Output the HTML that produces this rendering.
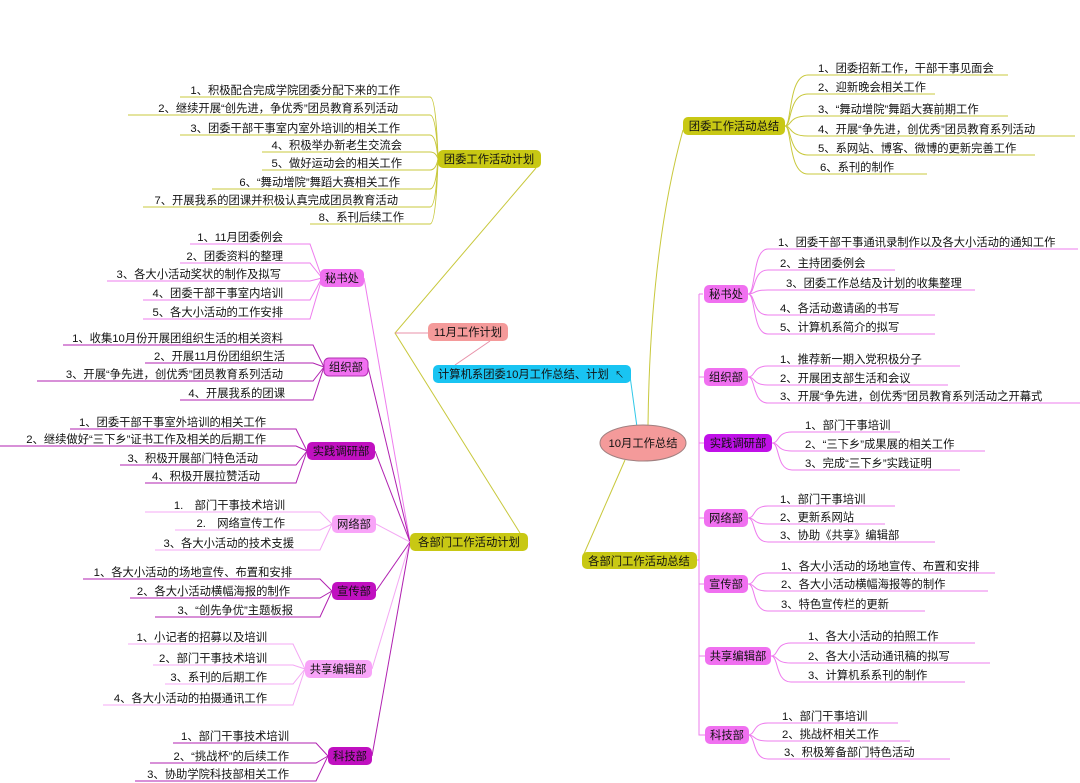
<!DOCTYPE html>
<html><head><meta charset="utf-8"><style>
html,body{margin:0;padding:0;background:#fff;}
svg{display:block;}
text{font-family:"Liberation Sans","Noto Sans CJK SC","WenQuanYi Zen Hei",sans-serif;font-size:11.3px;fill:#111;}
.e{text-anchor:end}
.m{text-anchor:middle}
.o{stroke:#c8c83c;fill:none;stroke-width:1}
.p{stroke:#ee7cee;fill:none;stroke-width:1}
.q{stroke:#b020b0;fill:none;stroke-width:1}
.r{stroke:#f4a8f4;fill:none;stroke-width:1}
</style></head><body>
<svg width="1080" height="783" viewBox="0 0 1080 783" xmlns="http://www.w3.org/2000/svg">
<!-- main trunk lines -->
<path class="o" d="M536,168 L395,333 L520,533"/>
<path d="M395,333 H430" stroke="#e890a8" fill="none"/>
<path d="M490,341 L455,365" stroke="#e890a8" fill="none"/>
<path d="M630,376 L637,427" stroke="#30c8e8" fill="none"/>
<path class="o" d="M648,426 Q650,250 683,130"/>
<path class="o" d="M625,460 L583,556"/>

<!-- Left top: 团委工作活动计划 -->
<g class="o">
<path d="M180,97 H430 Q436,97 438,159"/>
<path d="M128,115 H430 Q436,115 438,159"/>
<path d="M180,135 H430 Q436,135 438,159"/>
<path d="M262,152 H430 Q436,152 438,159"/>
<path d="M262,170 H430 Q436,170 438,159"/>
<path d="M212,189 H430 Q436,189 438,159"/>
<path d="M143,207 H430 Q436,207 438,159"/>
<path d="M310,224 H430 Q436,224 438,159"/>
</g>
<text class="e" x="400" y="94">1、积极配合完成学院团委分配下来的工作</text>
<text class="e" x="398" y="112">2、继续开展“创先进，争优秀”团员教育系列活动</text>
<text class="e" x="400" y="132">3、团委干部干事室内室外培训的相关工作</text>
<text class="e" x="402" y="149">4、积极举办新老生交流会</text>
<text class="e" x="402" y="167">5、做好运动会的相关工作</text>
<text class="e" x="400" y="186">6、“舞动增院”舞蹈大赛相关工作</text>
<text class="e" x="398" y="204">7、开展我系的团课并积极认真完成团员教育活动</text>
<text class="e" x="404" y="221">8、系刊后续工作</text>
<rect x="438" y="150" width="103" height="18" rx="5" fill="#c8c814"/>
<text class="m" x="489" y="163">团委工作活动计划</text>

<rect x="428" y="323" width="80" height="18" rx="5" fill="#f49a9a"/>
<text class="m" x="468" y="336">11月工作计划</text>
<rect x="433" y="365" width="198" height="18" rx="5" fill="#19c4f2"/>
<text x="438" y="378">计算机系团委10月工作总结、计划</text>
<text x="615" y="378" style="font-size:9px">↖</text>
<ellipse cx="643" cy="443" rx="43" ry="18" fill="#f49a9a" stroke="#a08080"/>
<text class="m" x="643" y="447">10月工作总结</text>

<!-- Left departments to 各部门工作活动计划 -->
<path class="p" d="M364,278 L410,542"/>
<path class="q" d="M368,367 L410,542"/>
<path class="q" d="M375,451 L410,542"/>
<path class="r" d="M376,524 L410,542"/>
<path class="q" d="M376,591 L410,542"/>
<path class="r" d="M372,669 L410,542"/>
<path class="q" d="M372,756 L410,542"/>

<!-- 秘书处 left -->
<g class="p">
<path d="M190,244 H310 L322,278"/>
<path d="M180,263 H310 L322,278"/>
<path d="M107,281 H310 L322,278"/>
<path d="M143,300 H310 L322,278"/>
<path d="M143,319 H310 L322,278"/>
</g>
<text class="e" x="283" y="241">1、11月团委例会</text>
<text class="e" x="283" y="260">2、团委资料的整理</text>
<text class="e" x="281" y="278">3、各大小活动奖状的制作及拟写</text>
<text class="e" x="283" y="297">4、团委干部干事室内培训</text>
<text class="e" x="283" y="316">5、各大小活动的工作安排</text>
<rect x="320" y="269" width="44" height="18" rx="5" fill="#f070f0"/>
<text class="m" x="342" y="282">秘书处</text>

<!-- 组织部 left -->
<g class="q">
<path d="M63,345 H313 L324,367"/>
<path d="M145,363 H313 L324,367"/>
<path d="M37,381 H313 L324,367"/>
<path d="M180,400 H313 L324,367"/>
</g>
<text class="e" x="283" y="342">1、收集10月份开展团组织生活的相关资料</text>
<text class="e" x="285" y="360">2、开展11月份团组织生活</text>
<text class="e" x="283" y="378">3、开展“争先进，创优秀”团员教育系列活动</text>
<text class="e" x="285" y="397">4、开展我系的团课</text>
<rect x="324" y="358" width="44" height="18" rx="5" fill="#f070f0" stroke="#b030b0"/>
<text class="m" x="346" y="371">组织部</text>

<!-- 实践调研部 left -->
<g class="q">
<path d="M70,429 H296 L307,451"/>
<path d="M0,446 H296 L307,451"/>
<path d="M120,465 H296 L307,451"/>
<path d="M145,483 H296 L307,451"/>
</g>
<text class="e" x="266" y="426">1、团委干部干事室外培训的相关工作</text>
<text class="e" x="266" y="443">2、继续做好“三下乡”证书工作及相关的后期工作</text>
<text class="e" x="258" y="462">3、积极开展部门特色活动</text>
<text class="e" x="260" y="480">4、积极开展拉赞活动</text>
<rect x="307" y="442" width="68" height="18" rx="5" fill="#c010c0"/>
<text class="m" x="341" y="455">实践调研部</text>

<!-- 网络部 left -->
<g class="r">
<path d="M145,512 H320 L332,524"/>
<path d="M175,530 H320 L332,524"/>
<path d="M155,550 H320 L332,524"/>
</g>
<text class="e" x="285" y="509">1.　部门干事技术培训</text>
<text class="e" x="285" y="527">2.　网络宣传工作</text>
<text class="e" x="294" y="547">3、各大小活动的技术支援</text>
<rect x="332" y="515" width="44" height="18" rx="5" fill="#f8a4f8"/>
<text class="m" x="354" y="528">网络部</text>

<!-- 宣传部 left -->
<g class="q">
<path d="M83,579 H320 L332,591"/>
<path d="M130,598 H320 L332,591"/>
<path d="M155,617 H320 L332,591"/>
</g>
<text class="e" x="292" y="576">1、各大小活动的场地宣传、布置和安排</text>
<text class="e" x="290" y="595">2、各大小活动横幅海报的制作</text>
<text class="e" x="293" y="614">3、“创先争优”主题板报</text>
<rect x="332" y="582" width="44" height="18" rx="5" fill="#c010c0"/>
<text class="m" x="354" y="595">宣传部</text>

<!-- 共享编辑部 left -->
<g class="r">
<path d="M128,644 H293 L305,669"/>
<path d="M153,665 H293 L305,669"/>
<path d="M165,684 H293 L305,669"/>
<path d="M103,705 H293 L305,669"/>
</g>
<text class="e" x="267" y="641">1、小记者的招募以及培训</text>
<text class="e" x="267" y="662">2、部门干事技术培训</text>
<text class="e" x="267" y="681">3、系刊的后期工作</text>
<text class="e" x="267" y="702">4、各大小活动的拍摄通讯工作</text>
<rect x="305" y="660" width="67" height="18" rx="5" fill="#f8a4f8"/>
<text class="m" x="338" y="673">共享编辑部</text>

<!-- 科技部 left -->
<g class="q">
<path d="M173,743 H316 L328,756"/>
<path d="M150,763 H316 L328,756"/>
<path d="M135,781 H316 L328,756"/>
</g>
<text class="e" x="289" y="740">1、部门干事技术培训</text>
<text class="e" x="289" y="760">2、“挑战杯”的后续工作</text>
<text class="e" x="289" y="778">3、协助学院科技部相关工作</text>
<rect x="328" y="747" width="44" height="18" rx="5" fill="#c010c0"/>
<text class="m" x="350" y="760">科技部</text>

<rect x="410" y="533" width="118" height="18" rx="5" fill="#c8c814"/>
<text class="m" x="469" y="546">各部门工作活动计划</text>

<!-- Right top: 团委工作活动总结 -->
<g class="o">
<path d="M785,126 C792,126 788,75 808,75 H1008"/>
<path d="M785,126 C792,126 788,94 808,94 H935"/>
<path d="M785,126 C792,126 788,116 808,116 H1008"/>
<path d="M785,126 C792,126 788,136 808,136 H1075"/>
<path d="M785,126 C792,126 788,155 808,155 H1035"/>
<path d="M785,126 C792,126 788,174 808,174 H927"/>
</g>
<text x="818" y="72">1、团委招新工作，干部干事见面会</text>
<text x="818" y="91">2、迎新晚会相关工作</text>
<text x="818" y="113">3、“舞动增院”舞蹈大赛前期工作</text>
<text x="818" y="133">4、开展“争先进，创优秀”团员教育系列活动</text>
<text x="818" y="152">5、系网站、博客、微博的更新完善工作</text>
<text x="820" y="171">6、系刊的制作</text>
<rect x="683" y="117" width="102" height="18" rx="5" fill="#c8c814"/>
<text class="m" x="734" y="130">团委工作活动总结</text>

<!-- Right trunk -->
<path class="p" d="M697,560 H699 M699,294 Q699,294 703,294 M699,294 V735 Q699,735 705,735"/>
<path class="p" d="M699,377 H705 M699,443 H705 M699,518 H705 M699,584 H705 M699,656 H705"/>

<!-- 秘书处 right -->
<g class="p">
<path d="M748,294 C756,294 752,249 768,249 H1078"/>
<path d="M748,294 C756,294 752,270 768,270 H895"/>
<path d="M748,294 C756,294 752,290 768,290 H975"/>
<path d="M748,294 C756,294 752,315 768,315 H935"/>
<path d="M748,294 C756,294 752,334 768,334 H935"/>
</g>
<text x="778" y="246">1、团委干部干事通讯录制作以及各大小活动的通知工作</text>
<text x="780" y="267">2、主持团委例会</text>
<text x="786" y="287">3、团委工作总结及计划的收集整理</text>
<text x="780" y="312">4、各活动邀请函的书写</text>
<text x="780" y="331">5、计算机系简介的拟写</text>
<rect x="704" y="285" width="44" height="18" rx="5" fill="#f070f0"/>
<text class="m" x="726" y="298">秘书处</text>

<!-- 组织部 right -->
<g class="p">
<path d="M748,377 C756,377 752,366 768,366 H960"/>
<path d="M748,377 C756,377 752,385 768,385 H948"/>
<path d="M748,377 C756,377 752,403 768,403 H1080"/>
</g>
<text x="780" y="363">1、推荐新一期入党积极分子</text>
<text x="780" y="382">2、开展团支部生活和会议</text>
<text x="780" y="400">3、开展“争先进，创优秀”团员教育系列活动之开幕式</text>
<rect x="704" y="368" width="44" height="18" rx="5" fill="#f070f0"/>
<text class="m" x="726" y="381">组织部</text>

<!-- 实践调研部 right -->
<g class="p">
<path d="M772,443 C780,443 776,432 792,432 H900"/>
<path d="M772,443 C780,443 776,451 792,451 H985"/>
<path d="M772,443 C780,443 776,470 792,470 H960"/>
</g>
<text x="805" y="429">1、部门干事培训</text>
<text x="805" y="448">2、“三下乡”成果展的相关工作</text>
<text x="805" y="467">3、完成“三下乡”实践证明</text>
<rect x="704" y="434" width="68" height="18" rx="5" fill="#c010e8"/>
<text class="m" x="738" y="447">实践调研部</text>

<!-- 网络部 right -->
<g class="p">
<path d="M748,518 C756,518 752,506 768,506 H895"/>
<path d="M748,518 C756,518 752,524 768,524 H885"/>
<path d="M748,518 C756,518 752,542 768,542 H935"/>
</g>
<text x="780" y="503">1、部门干事培训</text>
<text x="780" y="521">2、更新系网站</text>
<text x="780" y="539">3、协助《共享》编辑部</text>
<rect x="704" y="509" width="44" height="18" rx="5" fill="#f070f0"/>
<text class="m" x="726" y="522">网络部</text>

<!-- 宣传部 right -->
<g class="p">
<path d="M748,584 C756,584 752,573 768,573 H995"/>
<path d="M748,584 C756,584 752,591 768,591 H988"/>
<path d="M748,584 C756,584 752,611 768,611 H925"/>
</g>
<text x="781" y="570">1、各大小活动的场地宣传、布置和安排</text>
<text x="781" y="588">2、各大小活动横幅海报等的制作</text>
<text x="781" y="608">3、特色宣传栏的更新</text>
<rect x="704" y="575" width="44" height="18" rx="5" fill="#f070f0"/>
<text class="m" x="726" y="588">宣传部</text>

<!-- 共享编辑部 right -->
<g class="p">
<path d="M771,656 C779,656 775,643 791,643 H975"/>
<path d="M771,656 C779,656 775,663 791,663 H990"/>
<path d="M771,656 C779,656 775,682 791,682 H965"/>
</g>
<text x="808" y="640">1、各大小活动的拍照工作</text>
<text x="808" y="660">2、各大小活动通讯稿的拟写</text>
<text x="808" y="679">3、计算机系系刊的制作</text>
<rect x="705" y="647" width="66" height="18" rx="5" fill="#f070f0"/>
<text class="m" x="738" y="660">共享编辑部</text>

<!-- 科技部 right -->
<g class="p">
<path d="M748,735 C756,735 752,723 768,723 H898"/>
<path d="M748,735 C756,735 752,741 768,741 H910"/>
<path d="M748,735 C756,735 752,759 768,759 H950"/>
</g>
<text x="782" y="720">1、部门干事培训</text>
<text x="782" y="738">2、挑战杯相关工作</text>
<text x="784" y="756">3、积极筹备部门特色活动</text>
<rect x="705" y="726" width="44" height="18" rx="5" fill="#f070f0"/>
<text class="m" x="727" y="739">科技部</text>

<rect x="582" y="552" width="115" height="17" rx="5" fill="#c8c814"/>
<text class="m" x="639" y="565">各部门工作活动总结</text>
</svg>
</body></html>
